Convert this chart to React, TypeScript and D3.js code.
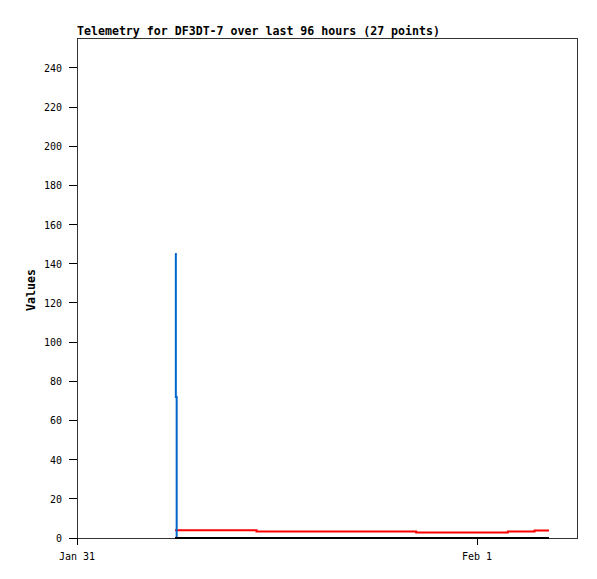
import React from "react";
import * as d3 from "d3";

const title = "Telemetry for DF3DT-7 over last 96 hours (27 points)";
const yLabel = "Values";
// hours after Jan 31 00:00 UTC
const hours = [5.88, 5.93, 5.98, 10.77, 20.35, 25.85, 27.45, 28.32];
const blueValues = [145, 72, 0, 0, 0, 0, 0, 0];
const redValues = [3.9, 3.9, 3.9, 3.35, 2.85, 3.35, 3.85, 3.85];
const blackValues = [0, 0, 0, 0, 0, 0, 0, 0];
const yTicks = [0, 20, 40, 60, 80, 100, 120, 140, 160, 180, 200, 220, 240];

const W = 597, H = 579;
const M = { left: 77, top: 38, right: 577, bottom: 538 };
const start = new Date(Date.UTC(2024, 0, 31, 0, 0));
const end = new Date(Date.UTC(2024, 1, 1, 6, 0));
const times = hours.map((h) => new Date(start.getTime() + h * 3600000));

export default function App() {
  const x = d3.scaleUtc().domain([start, end]).range([M.left, M.right]);
  const y = d3.scaleLinear().domain([0, 255.3]).range([M.bottom, M.top]);
  const line = d3
    .line<[Date, number]>()
    .x((d) => x(d[0]))
    .y((d) => y(d[1]))
    .curve(d3.curveStepAfter);
  const mk = (vals: number[]) => line(times.map((t, i) => [t, vals[i]] as [Date, number])) || "";
  const xTicks = d3.utcDay.range(start, end);
  const fmt = d3.utcFormat("%b %-d");
  const mono = "'DejaVu Sans Mono', monospace";
  return (
    <svg width={W} height={H} style={{ position: "absolute", left: 0, top: 0, background: "#fff" }}>
      <rect x={0} y={0} width={W} height={H} fill="#fff" />
      <text x={M.left} y={35} fontFamily={mono} fontWeight="bold" fontSize={11.6} fill="#000">
        {title}
      </text>
      <rect
        x={M.left}
        y={M.top}
        width={M.right - M.left}
        height={M.bottom - M.top}
        fill="none"
        stroke="#333"
        strokeWidth={1}
        shapeRendering="crispEdges"
      />
      {yTicks.map((t) => (
        <g key={t}>
          <line x1={M.left - 8} x2={M.left} y1={y(t)} y2={y(t)} stroke="#000" shapeRendering="crispEdges" />
          <text x={62} y={y(t) + 0.5} dy="0.35em" textAnchor="end" fontFamily={mono} fontSize={10} fill="#000">
            {t}
          </text>
        </g>
      ))}
      {xTicks.map((t) => (
        <g key={t.getTime()}>
          <line x1={x(t)} x2={x(t)} y1={M.bottom} y2={M.bottom + 7} stroke="#000" shapeRendering="crispEdges" />
          <text x={x(t)} y={560} textAnchor="middle" fontFamily={mono} fontSize={10} fill="#000">
            {fmt(t)}
          </text>
        </g>
      ))}
      <text
        transform={`translate(35,290) rotate(-90)`}
        textAnchor="middle"
        fontFamily={mono}
        fontWeight="bold"
        fontSize={11.6}
        fill="#000"
      >
        {yLabel}
      </text>
      <path d={mk(redValues)} fill="none" stroke="#ff0000" strokeWidth={2} />
      <path d={mk(blueValues)} fill="none" stroke="#0066cc" strokeWidth={2} />
      <path d={mk(blackValues)} fill="none" stroke="#000" strokeWidth={2} />
    </svg>
  );
}
